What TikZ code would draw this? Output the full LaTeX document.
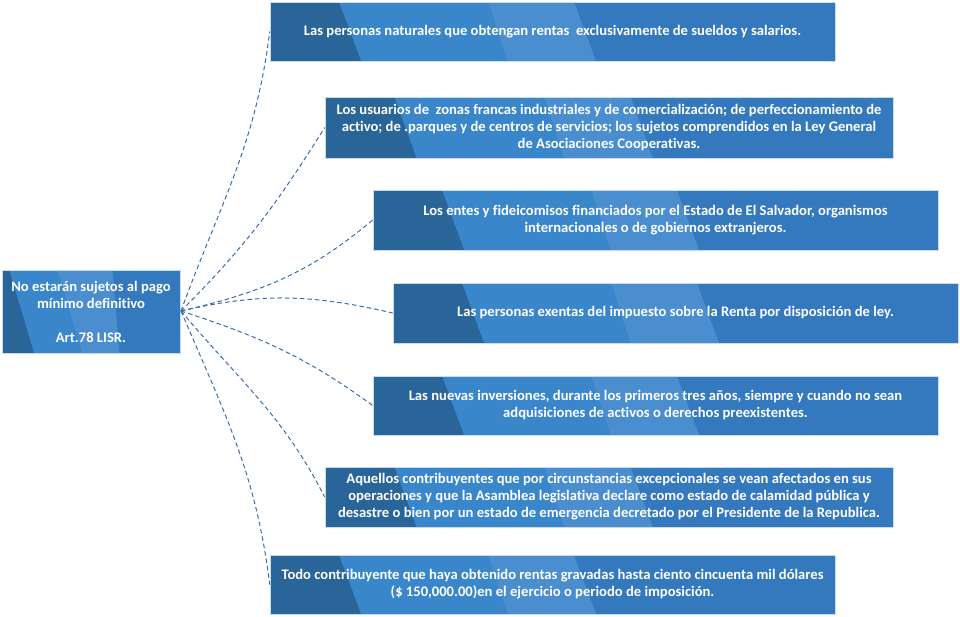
\documentclass[tikz,border=0pt]{standalone}
\usepackage{fontspec}
\setmainfont{Carlito}[Ligatures=NoCommon]
\usetikzlibrary{calc}
\definecolor{bdark}{HTML}{2A6599}
\definecolor{bmid}{HTML}{3A86CA}
\definecolor{blight}{HTML}{4A8ECF}
\definecolor{bbase}{HTML}{3479BE}
\definecolor{bedge}{HTML}{C9DCEF}
\definecolor{conn}{HTML}{3B6EA5}
\tikzset{
  x=1pt,y=-1pt,
  bands/.style n args={6}{path picture={
    \coordinate (nw) at (path picture bounding box.north west);
    \coordinate (ne) at (path picture bounding box.north east);
    \coordinate (sw) at (path picture bounding box.south west);
    \coordinate (se) at (path picture bounding box.south east);
    \fill[blight] ($(nw)!#3!(ne)$) -- ($(nw)!#5!(ne)$) -- ($(sw)!#6!(se)$) -- ($(sw)!#4!(se)$) -- cycle;
    \fill[bmid] ($(nw)!#1!(ne)$) -- ($(nw)!#3!(ne)$) -- ($(sw)!#4!(se)$) -- ($(sw)!#2!(se)$) -- cycle;
    \fill[bdark] (nw) -- ($(nw)!#1!(ne)$) -- ($(sw)!#2!(se)$) -- (sw) -- cycle;
  }},
  itembox/.style={draw=bedge, line width=0.6pt, fill=bbase, inner sep=0pt,
    minimum width=565pt, minimum height=60pt, align=center, text=white,
    font=\fontsize{14.6}{17}\selectfont\bfseries,
    bands={0.122}{0.161}{0.386}{0.42}{0.538}{0.577}},
  rootbox/.style={draw=bedge, line width=0.6pt, fill=bbase, inner sep=0pt,
    minimum width=178pt, minimum height=83pt, align=center, text=white,
    font=\fontsize{14.6}{17}\selectfont\bfseries,
    bands={0.04}{0.18}{0.31}{0.45}{0.62}{0.66}},
  link/.style={draw=conn, line width=1pt, dash pattern=on 4.5pt off 3pt},
}
\begin{document}
\begin{tikzpicture}
\useasboundingbox (0,0) rectangle (960,616);
\node[rootbox] (root) at (91,311.5) {No estarán sujetos al pago\\mínimo definitivo\\[17pt]Art.78 LISR.};
\coordinate (src) at (181,311);
\node[itembox, minimum height=59pt] (b1) at (552.5,31.5) {Las personas naturales que obtengan rentas~ exclusivamente de sueldos y salarios.};
\node[itembox, minimum width=568pt, minimum height=61pt] (b2) at (609,127.5) {Los usuarios de~ zonas francas industriales y de comercialización; de perfeccionamiento de\\activo; de .parques y de centros de servicios; los sujetos comprendidos en la Ley General\\de Asociaciones Cooperativas.};
\node[itembox] (b3) at (655.5,220) {Los entes y fideicomisos financiados por el Estado de El Salvador, organismos\\internacionales o de gobiernos extranjeros.};
\node[itembox] (b4) at (675.5,313) {Las personas exentas del impuesto sobre la Renta por disposición de ley.};
\node[itembox, minimum height=59pt] (b5) at (655.5,405.5) {Las nuevas inversiones, durante los primeros tres años, siempre y cuando no sean\\adquisiciones de activos o derechos preexistentes.};
\node[itembox, minimum width=568pt] (b6) at (609,497) {Aquellos contribuyentes que por circunstancias excepcionales se vean afectados en sus\\operaciones y que la Asamblea legislativa declare como estado de calamidad pública y\\desastre o bien por un estado de emergencia decretado por el Presidente de la Republica.};
\node[itembox, minimum height=59pt] (b7) at (552.5,584.5) {Todo contribuyente que haya obtenido rentas gravadas hasta ciento cincuenta mil dólares\\(\$ 150,000.00)en el ejercicio o periodo de imposición.};
\draw[link] (src) to[out=70,in=-97] (b1.west);
\draw[link] (src) to[out=45,in=-122] (b2.west);
\draw[link] (src) to[out=13,in=-140] (b3.west);
\draw[link] (src) to[out=13,in=167] (b4.west);
\draw[link] (src) to[out=-18,in=144] (b5.west);
\draw[link] (src) to[out=-50,in=117] (b6.west);
\draw[link] (src) to[out=-67,in=97] (b7.west);
\end{tikzpicture}
\end{document}
